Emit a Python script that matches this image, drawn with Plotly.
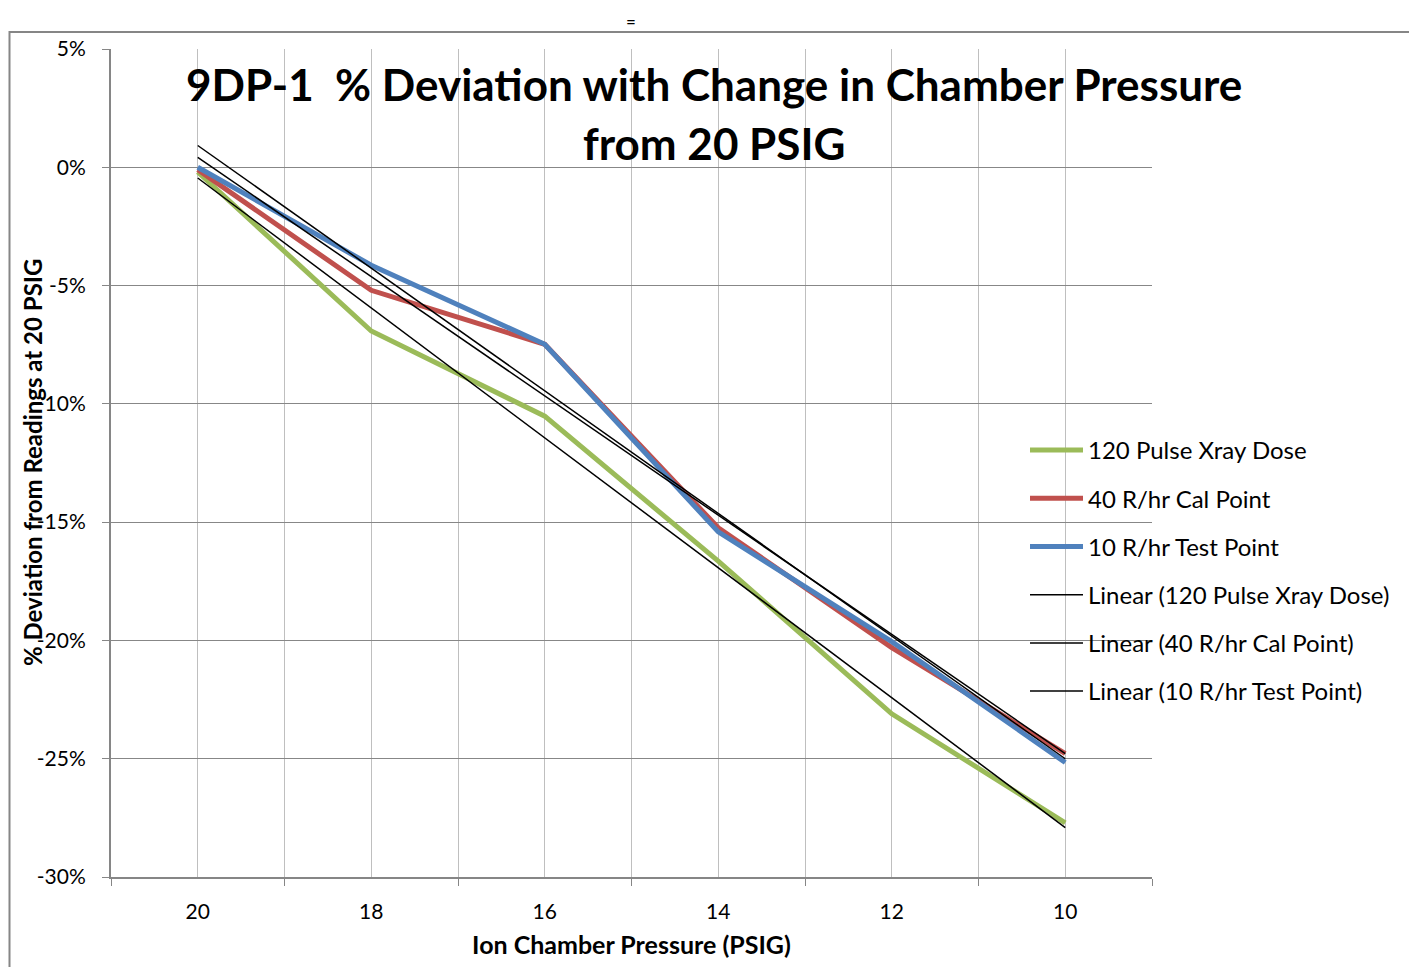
import numpy as np
import plotly.graph_objects as go

# ---- data ----
pressure = [20, 18, 16, 14, 12, 10]
pulse_xray_120 = [-0.2, -6.92, -10.52, -16.65, -23.1, -27.71]
cal_point_40 = [-0.1, -5.2, -7.48, -15.24, -20.3, -24.78]
test_point_10 = [0.0, -4.14, -7.48, -15.41, -20.05, -25.16]

series_names = ["120 Pulse Xray Dose", "40 R/hr Cal Point", "10 R/hr Test Point"]
series_colors = ["#9BBB59", "#C0504D", "#4F81BD"]

x_tickvals = [20, 18, 16, 14, 12, 10]
x_ticktext = ["20", "18", "16", "14", "12", "10"]
y_tickvals = [5, 0, -5, -10, -15, -20, -25, -30]
y_ticktext = ["5%", "0%", "-5%", "-10%", "-15%", "-20%", "-25%", "-30%"]

title_line1 = "9DP-1  % Deviation with Change in Chamber Pressure"
title_line2 = "from 20 PSIG"
x_title = "Ion Chamber Pressure (PSIG)"
y_title = "% Deviation from Readings at 20 PSIG"

FONT = "Lato"

# page offset of the plot div (browser body margin)
OFF = 8
PL, PT, PR, PB = 111, 49, 1152, 877   # plot area in screen px
PW, PH = PR - PL, PB - PT


def px(sx):
    return (sx - PL) / PW


def py(sy):
    return (PB - sy) / PH


fig = go.Figure()

all_series = [pulse_xray_120, cal_point_40, test_point_10]
for name, vals, col in zip(series_names, all_series, series_colors):
    fig.add_trace(go.Scatter(
        x=pressure, y=vals, mode="lines", name=name,
        line=dict(color=col, width=5), legendgroup=name,
    ))

for name, vals in zip(series_names, all_series):
    slope, intercept = np.polyfit(pressure, vals, 1)
    xs = np.array([pressure[0], pressure[-1]], dtype=float)
    fig.add_trace(go.Scatter(
        x=xs, y=slope * xs + intercept, mode="lines",
        name=f"Linear ({name})",
        line=dict(color="black", width=1.5), legendgroup="lin" + name,
    ))

fig.update_layout(
    width=1417, height=967,
    margin=dict(l=PL - OFF, r=1417 - (PR - OFF), t=PT - OFF, b=967 - (PB - OFF)),
    paper_bgcolor="white", plot_bgcolor="white",
    font=dict(family=FONT, color="black", size=21),
    showlegend=True,
    legend=dict(
        x=px(1025), xanchor="left",
        y=py(428), yanchor="top",
        font=dict(family=FONT, size=24, color="black"),
        bgcolor="rgba(0,0,0,0)", itemwidth=53,
        tracegroupgap=14, traceorder="grouped",
    ),
    xaxis=dict(
        range=[21, 9], autorange=False,
        tickmode="array", tickvals=x_tickvals, ticktext=x_ticktext,
        ticks="outside", ticklen=7, tickcolor="rgba(0,0,0,0)",
        ticklabelstandoff=8,
        showgrid=True, gridcolor="#BFBFBF", gridwidth=1,
        minor=dict(dtick=2, tick0=21, ticks="outside", ticklen=7,
                   tickcolor="#868686", showgrid=True,
                   gridcolor="#BFBFBF", gridwidth=1),
        showline=True, linecolor="#868686", linewidth=2,
        zeroline=False,
        title=dict(text=f"<b>{x_title}</b>", font=dict(size=25, family=FONT), standoff=14),
        tickfont=dict(size=21, family=FONT),
    ),
    yaxis=dict(
        range=[-30, 5], autorange=False,
        tickmode="array", tickvals=y_tickvals, ticktext=y_ticktext,
        ticks="outside", ticklen=7, tickcolor="#868686",
        ticklabelstandoff=12,
        showgrid=True, gridcolor="#878787", gridwidth=1,
        showline=True, linecolor="#868686", linewidth=2,
        zeroline=False,
        tickfont=dict(size=21, family=FONT),
    ),
    annotations=[
        dict(text=f"<b>{title_line1}</b>", xref="paper", yref="paper",
             x=px(714), y=py(84), xanchor="center", yanchor="middle",
             showarrow=False, font=dict(size=44, family=FONT, color="black")),
        dict(text=f"<b>{title_line2}</b>", xref="paper", yref="paper",
             x=px(714), y=py(143), xanchor="center", yanchor="middle",
             showarrow=False, font=dict(size=44, family=FONT, color="black")),
        dict(text=f"<b>{y_title}</b>", xref="paper", yref="paper",
             x=px(32), y=py(463), xanchor="center", yanchor="middle",
             textangle=-90, showarrow=False,
             font=dict(size=24, family=FONT, color="black")),
        dict(text="=", xref="paper", yref="paper",
             x=px(631), y=py(21), xanchor="center", yanchor="middle",
             showarrow=False, font=dict(size=17, family=FONT, color="black")),
    ],
    shapes=[
        dict(type="rect", xref="paper", yref="paper",
             x0=px(9.5), x1=px(1440),
             y0=py(990), y1=py(32),
             line=dict(color="#868686", width=2), fillcolor="rgba(0,0,0,0)", layer="below"),
    ],
)

fig.write_html("out.html")
